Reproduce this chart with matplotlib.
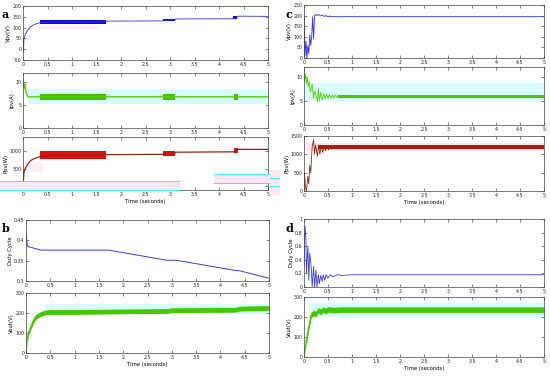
import matplotlib
matplotlib.use("Agg")
import matplotlib.pyplot as plt
from matplotlib.patches import Rectangle
import numpy as np

W, H = 550, 377

# ---------------- data ----------------
# Panel a
a_v_t = [0, 0.01, 0.02, 0.05, 0.1, 0.15, 0.2, 0.25, 0.3, 0.35, 0.5, 1.0, 1.7, 1.72, 2.85, 2.9, 3.1, 3.12, 4.3, 4.35, 4.4, 5.0]
a_v = [0, -10, 50, 70, 90, 102, 110, 116, 120, 123, 125, 126, 127, 130, 131, 134, 136, 140, 141, 146, 153, 152]
a_v_band_t = [(0.0, 0.025), (0.35, 1.7), (2.85, 3.1), (4.28, 4.36)]
a_v_band_lo = [-5, 117, 131, 141]
a_v_band_hi = [50, 134, 141, 153]

a_i_t = [0, 0.02, 0.04, 0.06, 0.1, 1.7, 5.0]
a_i = [10.8, 8.6, 9.6, 7.8, 6.8, 6.8, 6.8]
a_i_band_t = [(0.35, 1.7), (2.85, 3.1), (4.3, 4.38)]
a_i_band_lo = [6.1, 6.1, 6.1]
a_i_band_hi = [7.5, 7.5, 7.5]

a_p_t = [0, 0.02, 0.05, 0.1, 0.15, 0.2, 0.25, 0.3, 0.35, 0.5, 1.7, 1.72, 2.85, 3.1, 3.12, 4.3, 4.4, 5.0]
a_p = [0, 400, 520, 640, 720, 770, 800, 820, 850, 880, 890, 900, 910, 940, 970, 980, 1050, 1050]
a_p_band_t = [(0.0, 0.03), (0.35, 1.7), (2.85, 3.1), (4.3, 4.38)]
a_p_band_lo = [0, 790, 870, 950]
a_p_band_hi = [450, 990, 1010, 1080]

# Panel b
b_d_t = [0, 0.03, 0.05, 0.1, 0.3, 1.7, 2.9, 3.1, 4.3, 4.4, 5.0]
b_d = [0.418, 0.386, 0.384, 0.383, 0.376, 0.376, 0.351, 0.351, 0.326, 0.325, 0.307]

b_v_t = [0, 0.02, 0.05, 0.1, 0.15, 0.2, 0.3, 0.4, 0.5, 1.0, 2.0, 2.9, 3.0, 4.3, 4.4, 5.0]
b_v = [0, 60, 100, 130, 160, 180, 195, 203, 205, 205, 208, 210, 214, 216, 222, 225]
b_v_band_hw = 12

# Panel c
c_v_t = [0, 0.005, 0.02, 0.04, 0.06, 0.08, 0.1, 0.12, 0.14, 0.16, 0.18, 0.2, 0.22, 0.24, 0.26, 0.3,
         0.34, 0.38, 0.42, 0.46, 0.5, 0.53, 0.56, 0.59, 0.62, 0.65, 0.68, 0.71, 0.74, 0.77, 0.8, 0.85, 0.9, 1.0, 5.0]
c_v = [0, 200, 10, 80, 0, 60, 20, 110, 60, 100, 195, 90, 200, 205, 200, 206,
       198, 203, 196, 200, 194, 198, 194, 197, 194, 197, 194, 196, 194, 196, 194, 196, 195, 195, 195]

c_i_t = [0, 0.01, 0.03, 0.05, 0.07, 0.09, 0.11, 0.13, 0.15, 0.17, 0.2, 0.22, 0.25, 0.28, 0.3, 0.32, 0.35,
         0.38, 0.41, 0.44, 0.47, 0.5, 0.53, 0.56, 0.59, 0.62, 0.65, 0.68, 0.71, 0.74, 0.77, 0.8, 0.85, 0.9, 1.0, 5.0]
c_i = [12, 9, 10.5, 8.5, 9.8, 8, 9, 6.8, 7.5, 8.5, 5.5, 7, 6.2, 4.8, 7.5, 5, 6.8,
       5.2, 6.5, 5.4, 6.4, 5.5, 6.3, 5.6, 6.2, 5.6, 6.2, 5.7, 6.1, 5.7, 6.1, 5.8, 6.0, 5.9, 5.9, 5.9]

c_p_t = [0, 0.01, 0.03, 0.05, 0.08, 0.1, 0.12, 0.14, 0.17, 0.2, 0.22, 0.24, 0.28, 0.3, 0.33, 0.36,
         0.39, 0.42, 0.45, 0.48, 0.51, 0.54, 0.57, 0.6, 0.63, 0.66, 0.69, 0.72, 0.75, 0.8, 0.85, 0.9, 1.0, 5.0]
c_p = [0, 500, 100, 0, 400, 200, 700, 500, 1200, 1400, 1000, 1250, 950, 1250, 1000, 1230,
       1050, 1220, 1100, 1230, 1120, 1220, 1140, 1230, 1150, 1230, 1160, 1230, 1170, 1220, 1180, 1210, 1200, 1200]
c_p_band = (0.3, 5.0, 1150, 1250)

# Panel d
d_d_t = [0, 0.02, 0.04, 0.05, 0.08, 0.1, 0.12, 0.15, 0.17, 0.2, 0.22, 0.25, 0.27, 0.3, 0.32, 0.35, 0.38,
         0.4, 0.43, 0.46, 0.5, 0.55, 0.6, 0.7, 0.8, 1.0, 5.0]
d_d = [0.3, 0.9, 0.7, 0.2, 0.6, 0.1, 0.5, 0.3, 0.0, 0.3, 0.0, 0.25, 0.0, 0.18, 0.05, 0.17, 0.08,
       0.18, 0.1, 0.18, 0.13, 0.18, 0.15, 0.18, 0.17, 0.18, 0.18]

d_v_t = [0, 0.05, 0.1, 0.15, 0.2, 0.25, 0.3, 0.35, 0.4, 0.45, 0.5, 0.6, 0.8, 1.0, 5.0]
d_v = [0, 80, 150, 210, 220, 215, 235, 225, 238, 230, 238, 235, 237, 237, 237]
d_v_band_hw = 14

xticks = [0, 0.5, 1, 1.5, 2, 2.5, 3, 3.5, 4, 4.5, 5]
xticklabels = ["0", "0.5", "1", "1.5", "2", "2.5", "3", "3.5", "4", "4.5", "5"]

# ---------------- figure ----------------
fig = plt.figure(figsize=(W / 100, H / 100), dpi=100)
plt.rcParams['font.family'] = ['DejaVu Sans']


def mkax(x0, x1, y0, y1, ylim, yticks, ylabel, xlabel=None):
    ax = fig.add_axes([x0 / W, 1 - y1 / H, (x1 - x0) / W, (y1 - y0) / H])
    ax.set_xlim(0, 5)
    ax.set_ylim(*ylim)
    ax.set_xticks(xticks)
    ax.set_xticklabels(xticklabels)
    ax.set_yticks(yticks)
    ax.set_yticklabels([("%g" % v) for v in yticks])
    ax.tick_params(direction='in', length=2, width=0.4, labelsize=3.4, pad=1.2,
                   top=True, right=True, colors='#222222')
    for s in ax.spines.values():
        s.set_linewidth(0.5)
        s.set_color('#444444')
    ax.set_ylabel(ylabel, fontsize=3.8, labelpad=0.8)
    if xlabel:
        ax.set_xlabel(xlabel, fontsize=3.8, labelpad=1.5)
    return ax


def bands(ax, segs, lo, hi, color):
    for (t0, t1), l, h in zip(segs, lo, hi):
        ax.fill_between([t0, t1], [l, l], [h, h], color=color, lw=0)


VB = '#3030ee'
VBD = '#0a0ad0'
GR = '#55cc00'
PR = '#8a2a10'
PRB = '#dd1010'

# ----- a -----
ax = mkax(23, 268, 6, 60, (-50, 200), [-50, 0, 50, 100, 150, 200], 'Vpv(V)')
ax.axhspan(95, 108, xmin=0.06, xmax=0.3, color='#ffe8f4', lw=0)
ax.plot(a_v_t, a_v, color=VB, lw=0.6)
bands(ax, a_v_band_t, a_v_band_lo, a_v_band_hi, VBD)

ax = mkax(23, 268, 73, 128, (0, 12), [0, 5, 10], 'Ipv(A)')
ax.axhspan(5.2, 8.6, xmin=0.02, xmax=1, color='#d8fcfc', lw=0)
ax.plot(a_i_t, a_i, color=GR, lw=1.0)
bands(ax, a_i_band_t, a_i_band_lo, a_i_band_hi, '#4cc000')

ax = mkax(23, 268, 137, 190, (-100, 1400), [0, 500, 1000], 'Ppv(W)', 'Time (seconds)')
ax.axhspan(400, 700, xmin=0, xmax=0.08, color='#fff0f8', lw=0)
bands(ax, a_p_band_t, a_p_band_lo, a_p_band_hi, PRB)
ax.plot(a_p_t, a_p, color=PR, lw=0.9)

# ----- b -----
ax = mkax(26, 269, 220, 281, (0.3, 0.45), [0.3, 0.35, 0.4, 0.45], 'Duty Cycle')
ax.plot(b_d_t, b_d, color='#3a3ae0', lw=0.7)

ax = mkax(26, 269, 293, 353, (0, 300), [0, 100, 200, 300], 'Vout(V)', 'Time (seconds)')
ax.axhspan(195, 245, xmin=0.08, xmax=1, color='#d8fcfc', lw=0)
bv = np.array(b_v, dtype=float)
ax.fill_between(b_v_t[1:], bv[1:] - b_v_band_hw, bv[1:] + b_v_band_hw, color='#44c800', lw=0)
ax.plot(b_v_t, b_v, color='#44c800', lw=1.0)

# ----- c -----
ax = mkax(304, 544, 5, 58, (0, 250), [0, 50, 100, 150, 200, 250], 'Vpv(V)')
ax.plot(c_v_t, c_v, color=VB, lw=0.6)

ax = mkax(304, 544, 67, 125, (0, 12), [0, 5, 10], 'Ipv(A)')
ax.axhspan(5.0, 8.6, xmin=0, xmax=1, color='#d8fcfc', lw=0)
ax.plot(c_i_t, c_i, color=GR, lw=0.6)
ax.fill_between([0.7, 5.0], [5.6, 5.6], [6.2, 6.2], color='#4cc000', lw=0)

ax = mkax(304, 544, 136, 191, (0, 1500), [0, 500, 1000, 1500], 'Ppv(W)', 'Time (seconds)')
ax.axhspan(1080, 1300, xmin=0, xmax=1, color='#ffe4f2', lw=0)
ax.fill_between(c_p_band[:2], [c_p_band[2]] * 2, [c_p_band[3]] * 2, color='#b81808', lw=0)
ax.plot(c_p_t, c_p, color=PR, lw=0.6)

# ----- d -----
ax = mkax(304, 544, 219, 287, (0, 1), [0, 0.2, 0.4, 0.6, 0.8, 1], 'Duty Cycle')
ax.plot(d_d_t, d_d, color='#3a3ae0', lw=0.6)

ax = mkax(304, 544, 297, 357, (0, 300), [0, 100, 200, 300], 'Vout(V)', 'Time (seconds)')
ax.axhspan(200, 270, xmin=0.03, xmax=1, color='#d8fcfc', lw=0)
dv = np.array(d_v, dtype=float)
ax.fill_between(d_v_t[1:], dv[1:] - d_v_band_hw, dv[1:] + d_v_band_hw, color='#44c800', lw=0)
ax.plot(d_v_t, d_v, color='#44c800', lw=1.0)

# scanning artefacts of the source image (thin cyan / pink streaks)
for (x0, y0, w, h, c) in [(0, 181, 180, 10, '#ffe6f4'), (0, 181, 180, 1.2, '#40f0f0'),
                          (0, 190, 180, 1.2, '#40f0f0'), (214, 174, 66, 9, '#ffe6f4'),
                          (214, 174, 66, 1.2, '#40f0f0'), (214, 183, 66, 1.2, '#40f0f0'),
                          (270, 170, 10, 25, '#ffe6f4'), (270, 178, 10, 1.2, '#40f0f0'),
                          (270, 186, 10, 1.2, '#40f0f0')]:
    fig.add_artist(Rectangle((x0 / W, 1 - (y0 + h) / H), w / W, h / H,
                             transform=fig.transFigure, color=c, lw=0, zorder=5))

# panel letters
for txt, x, y in [('a', 1, 18), ('b', 2, 232), ('c', 285, 18), ('d', 285, 232)]:
    fig.text(x / W, 1 - y / H, txt, fontsize=8, fontweight='bold', family='DejaVu Serif')

fig.savefig('out.png', dpi=100)
